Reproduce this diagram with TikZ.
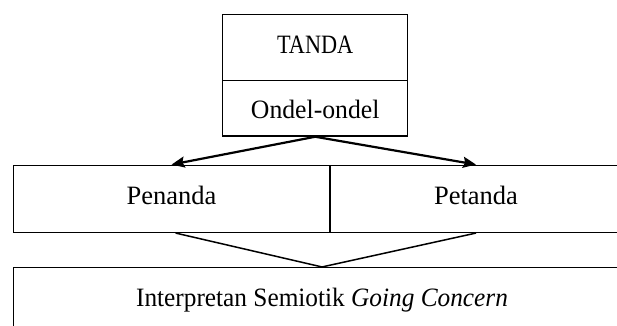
\documentclass[tikz,border=0pt]{standalone}
\usepackage{fontspec}
\setmainfont{Liberation Serif}
\usetikzlibrary{arrows.meta}
\newcommand{\narrow}[2]{\scalebox{#1}[1]{#2}}
\begin{document}
\begin{tikzpicture}[x=1pt,y=-1pt,
  box/.style={draw, line width=1.5pt, rectangle, inner sep=0pt, font=\fontsize{26.5}{30}\selectfont},
  arr/.style={line width=2.2pt, -{Stealth[length=13pt,width=11pt,inset=2pt]}},
  vline/.style={line width=1.5pt}]
\useasboundingbox (0,0) rectangle (617,325);
\clip (0,0) rectangle (617,325);
\node[box, minimum width=185pt, minimum height=65.6pt, text height=19pt, text depth=8pt] (tanda) at (315.2,47.5) {\narrow{0.84}{TANDA}};
\node[box, minimum width=185pt, minimum height=55.7pt, text height=21pt, text depth=0.4pt] (ondel) at (315.2,108.15) {\narrow{0.97}{Ondel-ondel}};
\node[box, minimum width=316.4pt, minimum height=67pt, text height=19pt, text depth=8.6pt] (penanda) at (171.6,198.8) {Penanda};
\node[box, minimum width=292.4pt, minimum height=67pt, text height=19pt, text depth=8.6pt] (petanda) at (476,198.8) {Petanda};
\node[box, minimum width=617.2pt, minimum height=60pt, text height=19pt, text depth=2pt] (interp) at (322,297.7) {\narrow{0.955}{Interpretan Semiotik \textit{Going Concern}}};
\draw[arr] (ondel.south) -- (penanda.north);
\draw[arr] (ondel.south) -- (petanda.north);
\draw[vline] ([xshift=4pt]penanda.south) -- (interp.north) -- (petanda.south);
\end{tikzpicture}
\end{document}
